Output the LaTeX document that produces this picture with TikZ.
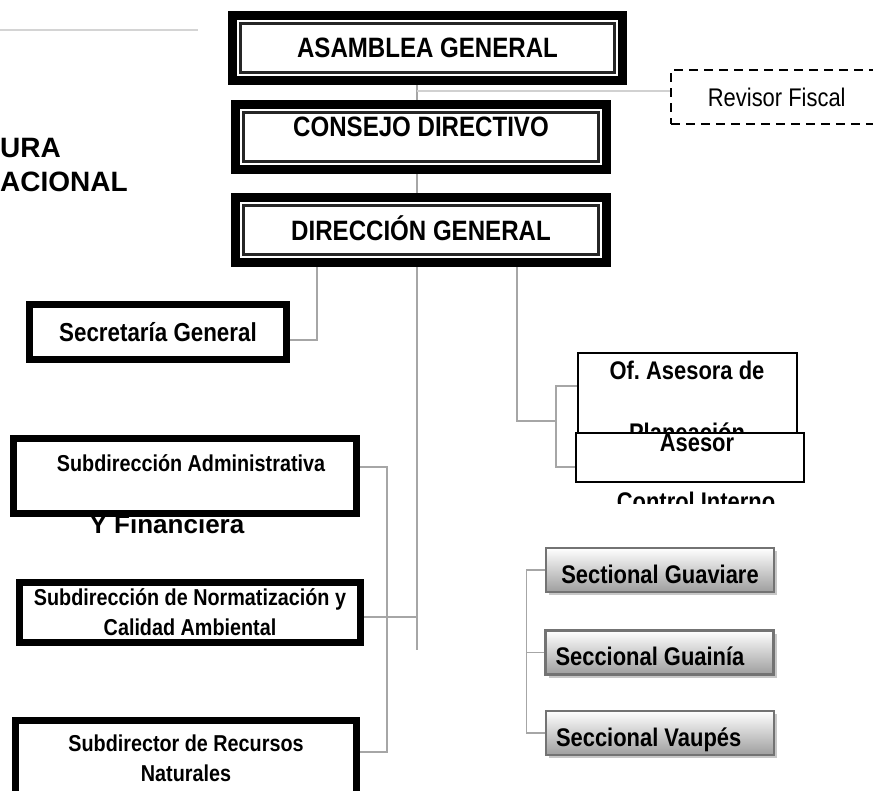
\documentclass[tikz,border=0pt]{standalone}
\usepackage{fontspec}
\setmainfont{Liberation Sans}[FakeStretch=0.86]
\newfontfamily\titlefont{Liberation Sans}
\usetikzlibrary{positioning,shadows,calc}
\frenchspacing

\begin{document}
\begin{tikzpicture}[x=1pt, y=-1pt,
    topbox/.style={draw, fill=white, line width=9pt, inner sep=0pt,
        minimum width=#1, minimum height=65pt,
        font=\bfseries\fontsize{28}{32}\selectfont},
    inframe/.style={draw=black!85, line width=2.5pt},
    subbox/.style={draw, fill=white, line width=7pt, inner sep=0pt, align=center,
        font=\bfseries\fontsize{23}{30}\selectfont},
    thinbox/.style={draw, fill=white, line width=2pt, inner sep=0pt},
    lbl/.style={inner sep=0pt, font=\bfseries\fontsize{#1}{#1}\selectfont},
    lbl/.default=23,
    secbox/.style={draw=black!55, line width=2.5pt, top color=white, bottom color=black!38,
        minimum height=44pt, minimum width=228pt, inner sep=0pt,
        text height=26pt, text depth=0pt,
        font=\bfseries\fontsize{25.5}{28}\selectfont,
        drop shadow={shadow xshift=3pt, shadow yshift=-3pt, fill=black!22, opacity=1}},
    conn/.style={draw=black!35, line width=1.2pt}
]
\useasboundingbox (0,0) rectangle (873,790);
\clip (0,0) rectangle (873,790);

% titulo (cortado)
\draw[black!17, line width=2pt] (0,30) -- (198,30);
\node[anchor=base west, inner sep=0pt, font=\titlefont\bfseries\fontsize{28}{34}\selectfont] (titA) at (0,157) {URA};
\node[anchor=base west, inner sep=0pt, font=\titlefont\bfseries\fontsize{28}{34}\selectfont] (titB) at (0,191) {ACIONAL};

% cabeza
\node[topbox=390pt] (asamblea) at (427.5,48) {ASAMBLEA GENERAL};
\node[topbox=371pt, text depth=21pt] (consejo) at (421,137) {CONSEJO DIRECTIVO};
\node[topbox=371pt, text depth=4pt] (direccion) at (421,230) {DIRECCIÓN GENERAL};
\foreach \n in {asamblea,consejo,direccion}
    \draw[inframe] ([shift={(12.5pt,-12.5pt)}]\n.north west) rectangle ([shift={(-12.5pt,12.5pt)}]\n.south east);

\node[draw, dash pattern=on 9pt off 6pt, line width=1.8pt, minimum height=54pt,
    inner xsep=37pt, anchor=west,
    font=\fontsize{25.5}{28}\selectfont] (revisor) at (670,97) {\makebox[190pt][l]{Revisor Fiscal}};

% staff
\node[subbox, minimum width=257pt, minimum height=55pt,
    font=\bfseries\fontsize{26}{30}\selectfont] (secretaria) at (158,332) {Secretaría General};

\node[thinbox, minimum width=219pt, minimum height=82pt] (ofplan) at (687.5,394) {};
\node[lbl=25.5] (ofplanA) at (687,370) {Of. Asesora de};
\node[lbl=25.5] (ofplanB) at (687,432) {Planeación};
\node[thinbox, minimum width=228pt, minimum height=49pt] (asesor) at (690,457.5) {};
\node[lbl=25.5] (asesorA) at (697,443) {Asesor};
\begin{scope}
    \clip (560,484) rectangle (820,503);
    \node[lbl=25.5] (asesorB) at (696,501) {Control Interno};
\end{scope}

% subdirecciones
\node[inner sep=0pt, font=\titlefont\bfseries\fontsize{26}{26}\selectfont] (sadmB) at (167,524) {Y Financiera};
\node[subbox, minimum width=343pt, minimum height=75pt] (sadm) at (185,476) {};
\node[lbl] (sadmA) at (191,463) {Subdirección Administrativa};
\node[subbox, minimum width=341pt, minimum height=60pt] (snorm) at (190,612.5)
    {Subdirección de Normatización y\\Calidad Ambiental};
\node[subbox, minimum width=341pt, minimum height=76pt] (srec) at (186,758.5)
    {Subdirector de Recursos\\Naturales};

% seccionales
\node[secbox] (guaviare) at (660,570) {Sectional Guaviare};
\node[secbox] (guainia) at (659.5,652.5) {\makebox[208pt][l]{Seccional Guainía}};
\node[secbox] (vaupes) at (660,733) {\makebox[208pt][l]{Seccional Vaupés}};

% conectores
\coordinate (trunk) at (417,650);
\coordinate (rbus) at (556,421);
\coordinate (sbus) at (387,617);
\draw[conn] (asamblea.south -| trunk) -- (consejo.north -| trunk);
\draw[conn] (consejo.south -| trunk) -- (direccion.north -| trunk);
\draw[conn] (direccion.south -| trunk) -- (trunk);
\draw[conn, draw=black!18] ([yshift=6pt]revisor.west) -- ([yshift=6pt]revisor.west -| trunk);
\draw[conn] ([xshift=-104pt]direccion.south) |- ([yshift=-8pt]secretaria.east);
\draw[conn] ([xshift=96pt]direccion.south) |- (rbus);
\draw[conn] ([yshift=8pt]ofplan.west) -| (rbus) |- ([yshift=-9.5pt]asesor.west);
\draw[conn] ([yshift=9pt]sadm.east) -| (sbus) |- ([yshift=6.5pt]srec.east);
\draw[conn] ([yshift=-4.5pt]snorm.east) -- (sbus) -- (sbus -| trunk);
\draw[conn] (guaviare.west) -- ++(-18pt,0) |- (vaupes.west);
\draw[conn] (guainia.west) -- ++(-18pt,0);
\end{tikzpicture}
\end{document}
